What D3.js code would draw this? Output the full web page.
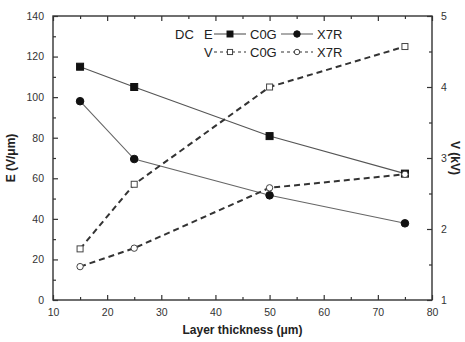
<!DOCTYPE html>
<html>
<head>
<meta charset="utf-8">
<script src="https://cdn.jsdelivr.net/npm/d3@7"></script>
<style>
  html, body { margin: 0; padding: 0; background: #fff; }
  svg { display: block; font-family: Arial, "Liberation Sans", sans-serif; }
</style>
</head>
<body>
<svg id="chart" width="465" height="342"></svg>
<script>
// Layer thickness (µm)
const thickness = [15, 25, 50, 75];
// DC breakdown field E (V/µm)
const eC0G = [115, 105, 80.8, 62.3];
const eX7R = [98, 69.5, 51.6, 37.8];
// DC breakdown voltage V (kV)
const vC0G = [1.72, 2.63, 4.0, 4.57];
const vX7R = [1.47, 1.73, 2.58, 2.77];

const xTicks = [10, 20, 30, 40, 50, 60, 70, 80];
const eTicks = [0, 20, 40, 60, 80, 100, 120, 140];
const vTicks = [1, 2, 3, 4, 5];

const svg = d3.select("#chart");
const L = 53, R = 432, T = 16, B = 300;

const x = d3.scaleLinear().domain([10, 80]).range([L, R]);
const yE = d3.scaleLinear().domain([0, 140]).range([B, T]);
const yV = d3.scaleLinear().domain([1, 5]).range([B, T]);

const axisColor = "#333";
const textColor = "#333";

// Frame
svg.append("rect").attr("x", L).attr("y", T).attr("width", R - L).attr("height", B - T)
  .attr("fill", "none").attr("stroke", axisColor).attr("stroke-width", 1.4);

function styleAxis(g) {
  g.select(".domain").remove();
  g.selectAll("line").attr("stroke", axisColor).attr("stroke-width", 1.2);
  g.selectAll("text").attr("fill", textColor).attr("font-size", 10.5);
}

// Bottom axis: major ticks inward, minor ticks between
svg.append("g").attr("transform", `translate(0,${B})`)
  .call(d3.axisBottom(x).tickValues(xTicks).tickSize(-5).tickPadding(9).tickFormat(d3.format("d")))
  .call(styleAxis);
svg.append("g").attr("transform", `translate(0,${B})`)
  .call(d3.axisBottom(x).tickValues(d3.range(15, 80, 10)).tickSize(-3).tickFormat(""))
  .call(styleAxis);
// Top mirror ticks
svg.append("g").attr("transform", `translate(0,${T})`)
  .call(d3.axisTop(x).tickValues(xTicks).tickSize(-5).tickFormat(""))
  .call(styleAxis);
svg.append("g").attr("transform", `translate(0,${T})`)
  .call(d3.axisTop(x).tickValues(d3.range(15, 80, 10)).tickSize(-3).tickFormat(""))
  .call(styleAxis);

// Left axis (E)
svg.append("g").attr("transform", `translate(${L},0)`)
  .call(d3.axisLeft(yE).tickValues(eTicks).tickSize(-5).tickPadding(9).tickFormat(d3.format("d")))
  .call(styleAxis);
svg.append("g").attr("transform", `translate(${L},0)`)
  .call(d3.axisLeft(yE).tickValues(d3.range(10, 140, 20)).tickSize(-3).tickFormat(""))
  .call(styleAxis);

// Right axis (V)
svg.append("g").attr("transform", `translate(${R},0)`)
  .call(d3.axisRight(yV).tickValues(vTicks).tickSize(-5).tickPadding(9).tickFormat(d3.format("d")))
  .call(styleAxis);
svg.append("g").attr("transform", `translate(${R},0)`)
  .call(d3.axisRight(yV).tickValues([1.5, 2.5, 3.5, 4.5]).tickSize(-3).tickFormat(""))
  .call(styleAxis);

// Axis titles
svg.append("text").attr("x", (L + R) / 2).attr("y", 334).attr("text-anchor", "middle")
  .attr("font-size", 12).attr("font-weight", "bold").attr("fill", "#222")
  .text("Layer thickness (μm)");
svg.append("text").attr("transform", `translate(15,${(T + B) / 2}) rotate(-90)`)
  .attr("text-anchor", "middle").attr("font-size", 12).attr("font-weight", "bold").attr("fill", "#222")
  .text("E (V/μm)");
svg.append("text").attr("transform", `translate(451,${(T + B) / 2}) rotate(90)`)
  .attr("text-anchor", "middle").attr("font-size", 12).attr("font-weight", "bold").attr("fill", "#222")
  .text("V (kV)");

// Series
const series = [
  { vals: eC0G, y: yE, dash: null, width: 1.1, color: "#555", marker: "square", filled: true },
  { vals: eX7R, y: yE, dash: null, width: 1.1, color: "#666", marker: "circle", filled: true },
  { vals: vC0G, y: yV, dash: "6,4", width: 2, color: "#333", marker: "square", filled: false },
  { vals: vX7R, y: yV, dash: "6,4", width: 2, color: "#333", marker: "circle", filled: false }
];

function drawMarker(g, type, filled, cx, cy, k = 1) {
  if (type === "square") {
    const s = (filled ? 7 : 6) * k;
    g.append("rect").attr("x", cx - s / 2).attr("y", cy - s / 2).attr("width", s).attr("height", s)
      .attr("fill", filled ? "#111" : "#fff").attr("stroke", filled ? "#111" : "#444").attr("stroke-width", 1);
  } else {
    const r = (filled ? 3.8 : 3.2) * k;
    g.append("circle").attr("cx", cx).attr("cy", cy).attr("r", r)
      .attr("fill", filled ? "#111" : "#fff").attr("stroke", filled ? "#111" : "#444").attr("stroke-width", 1);
  }
}

series.forEach(s => {
  const pts = thickness.map((t, i) => [x(t), s.y(s.vals[i])]);
  svg.append("path").attr("d", d3.line()(pts)).attr("fill", "none")
    .attr("stroke", s.color).attr("stroke-width", s.width)
    .attr("stroke-dasharray", s.dash);
});
series.forEach(s => {
  const g = svg.append("g");
  thickness.forEach((t, i) => drawMarker(g, s.marker, s.filled, x(t), s.y(s.vals[i])));
});

// Legend
const leg = svg.append("g").attr("font-size", 13).attr("fill", "#222");
leg.append("text").attr("x", 175).attr("y", 39).text("DC");
leg.append("text").attr("x", 204).attr("y", 39).text("E");
leg.append("text").attr("x", 204).attr("y", 57).text("V");
const legRows = [
  { y: 34, items: [series[0], series[1]] },
  { y: 52, items: [series[2], series[3]] }
];
const labels = ["C0G", "X7R"];
legRows.forEach(row => {
  row.items.forEach((s, j) => {
    const x0 = j === 0 ? 214 : 281;
    svg.append("line").attr("x1", x0).attr("x2", x0 + 32).attr("y1", row.y).attr("y2", row.y)
      .attr("stroke", s.color).attr("stroke-width", s.dash ? 1.2 : 1.1)
      .attr("stroke-dasharray", s.dash ? "3,3" : null);
    drawMarker(svg, s.marker, s.filled, x0 + 16, row.y, 0.85);
    leg.append("text").attr("x", x0 + 36).attr("y", row.y + 5).text(labels[j]);
  });
});
</script>
</body>
</html>
